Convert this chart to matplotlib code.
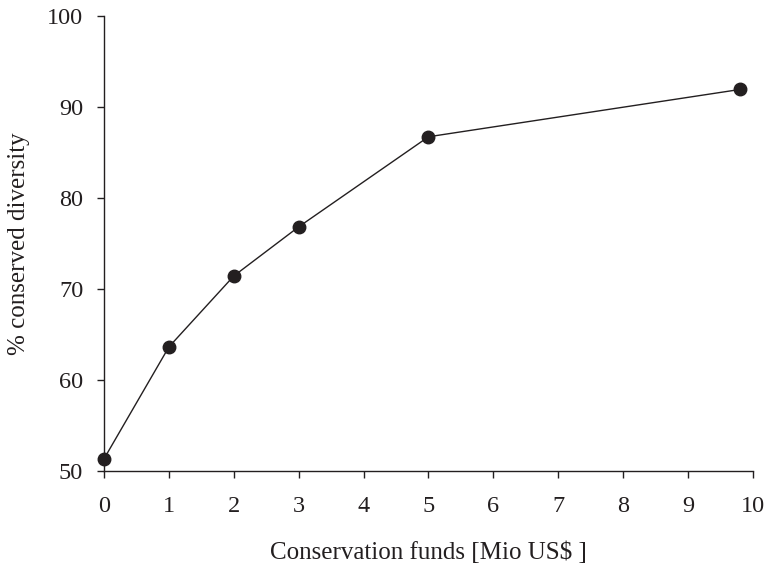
import matplotlib
matplotlib.use("Agg")
import matplotlib.pyplot as plt

# funds in Mio US$ vs % conserved diversity
funds = [0, 1, 2, 3, 5, 9.8]
conserved = [51.3, 63.6, 71.4, 76.8, 86.7, 91.9]
xticks = list(range(0, 11))
yticks = [50, 60, 70, 80, 90, 100]

plt.rcParams["font.family"] = ["Liberation Serif", "DejaVu Serif"]

fig = plt.figure(figsize=(7.67, 5.63), dpi=100)
ax = fig.add_axes([0.1356, 0.164, 0.8461, 0.808])

ax.plot(funds, conserved, color="#231f20", linewidth=1.0,
        marker="o", markersize=9, markerfacecolor="#231f20",
        markeredgecolor="#231f20", clip_on=False, zorder=3)

ax.set_xlim(0, 10)
ax.set_ylim(50, 100)
ax.set_xticks(xticks)
ax.set_yticks(yticks)
ax.tick_params(direction="out", length=5, width=1.0, labelsize=17.5,
               color="#231f20", labelcolor="#231f20")
ax.tick_params(axis="x", pad=13)
ax.tick_params(axis="y", pad=10)

for s in ["top", "right"]:
    ax.spines[s].set_visible(False)
for s in ["left", "bottom"]:
    ax.spines[s].set_linewidth(1.0)
    ax.spines[s].set_color("#231f20")

ax.set_xlabel("Conservation funds [Mio US\\$ ]", fontsize=18, color="#231f20", labelpad=18)
ax.set_ylabel("% conserved diversity", fontsize=18, color="#231f20", labelpad=12)

fig.savefig("out.png", dpi=100)
